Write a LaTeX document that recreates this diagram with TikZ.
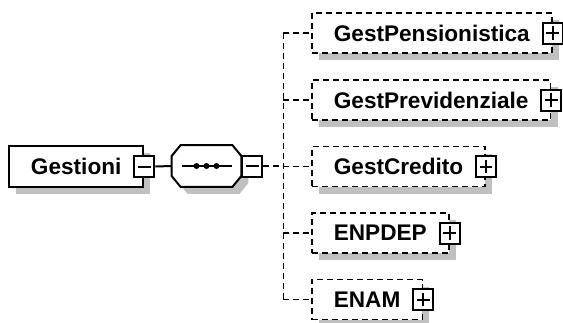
\documentclass[tikz,border=0pt]{standalone}
\usepackage{fontspec}
\setmainfont{Liberation Sans}
\usetikzlibrary{positioning,calc}
\definecolor{shadowgray}{RGB}{192,192,192}

\tikzset{
  shadowed/.style={preaction={fill=shadowgray, transform canvas={shift={(3.5pt,-3.5pt)}}}},
  rootbox/.style={shadowed, draw, fill=white, line width=1pt, font=\bfseries\fontsize{11.3}{13}\selectfont,
    minimum height=20.5pt, inner xsep=11pt, anchor=west},
  elembox/.style={shadowed, draw, fill=white, line width=0.85pt, dash pattern=on 3pt off 2pt,
    font=\bfseries\fontsize{11.3}{13}\selectfont, minimum height=20pt, inner xsep=11pt, anchor=west},
  seqbox/.style={minimum width=34.5pt, minimum height=20.5pt, inner sep=0pt},
  seqline/.style={shadowed, draw, fill=white, line width=1pt},
  togglebox/.style={draw, solid, fill=white, line width=1pt, minimum width=10pt, minimum height=10.5pt, inner sep=0pt},
  minusbox/.style={togglebox, path picture={
      \draw[line width=1pt] ([xshift=1.8pt]path picture bounding box.west) -- ([xshift=-1.8pt]path picture bounding box.east);}},
  plusbox/.style={togglebox, path picture={
      \draw[line width=1pt] ([xshift=1.8pt]path picture bounding box.west) -- ([xshift=-1.8pt]path picture bounding box.east);
      \draw[line width=1pt] ([yshift=-1.8pt]path picture bounding box.north) -- ([yshift=1.8pt]path picture bounding box.south);}},
  solidline/.style={line width=1pt},
  busline/.style={line width=0.85pt, dash pattern=on 3pt off 2pt}
}

\begin{document}
\begin{tikzpicture}[x=0.5pt, y=-0.5pt]
  \useasboundingbox (0,0) rectangle (563,322);

  % root element and its sequence
  \node[rootbox] (gestioni) at (8,166.5) {Gestioni};
  \node[minusbox] (gestminus) at (gestioni.east) {};
  \node[seqbox] (seq) at (206.5,166) {};
  \draw[seqline] ($(seq.north west)+(9,0)$) -- ($(seq.north east)+(-9,0)$) -- ($(seq.north east)+(0,11)$)
    -- ($(seq.south east)+(0,-11)$) -- ($(seq.south east)+(-9,0)$) -- ($(seq.south west)+(9,0)$)
    -- ($(seq.south west)+(0,-11)$) -- ($(seq.north west)+(0,11)$) -- cycle;
  \draw[solidline] ([xshift=5pt]seq.west) -- ([xshift=-4.5pt]seq.east);
  \foreach \dx in {-5,0,5}
    \fill ([xshift=\dx pt]seq.center) circle (1.5pt);
  \node[minusbox, anchor=west] (seqminus) at (seq.east) {};
  \draw[solidline] (gestminus.east) -- (seq.west);

  % child elements
  \node[elembox] (pens) at (311,33) {GestPensionistica};
  \node[elembox] (prev) at (311,100) {GestPrevidenziale};
  \node[elembox] (cred) at (311,166.5) {GestCredito};
  \node[elembox] (enpdep) at (311,233) {ENPDEP};
  \node[elembox] (enam) at (311,299.5) {ENAM};
  \foreach \e in {pens,prev,cred,enpdep,enam}
    \node[plusbox] (\e plus) at (\e.east) {};

  % connectors
  \draw[busline] (seqminus.east) -- ++(20,0) coordinate (bus);
  \draw[busline] (bus |- pens.west) -- (bus |- enam.west);
  \foreach \e in {pens,prev,cred,enpdep,enam}
    \draw[busline] (bus |- \e.west) -- (\e.west);
\end{tikzpicture}
\end{document}
